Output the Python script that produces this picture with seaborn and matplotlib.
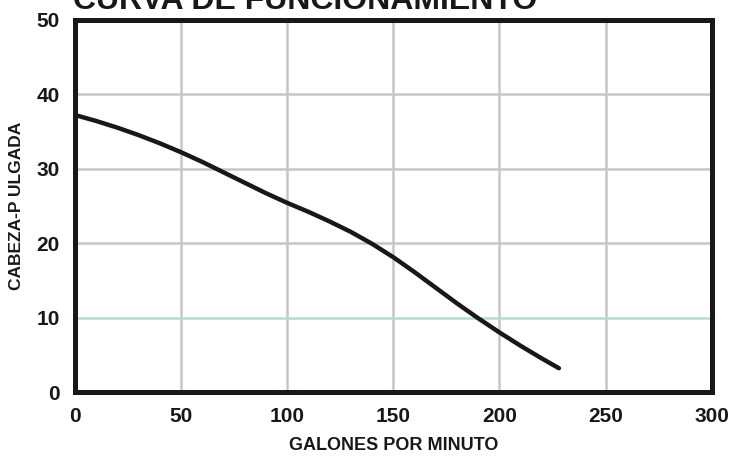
import numpy as np
import pandas as pd
import seaborn as sns
import matplotlib.pyplot as plt

# values
gpm = [0, 10, 20, 30, 40, 50, 60, 70, 80, 90, 100, 110, 120, 130, 140,
       150, 160, 170, 180, 190, 200, 210, 220, 228]
head = [37.2, 36.4, 35.5, 34.5, 33.4, 32.2, 30.9, 29.5, 28.1, 26.7, 25.4,
        24.2, 22.9, 21.5, 19.9, 18.1, 16.1, 14.0, 11.9, 9.9, 8.0, 6.2, 4.5, 3.2]
x_ticks = [0, 50, 100, 150, 200, 250, 300]
y_ticks = [0, 10, 20, 30, 40, 50]

curve_df = pd.DataFrame({'GPM': gpm, 'Head': head})

sns.set_style('white')
plt.rcParams['font.family'] = ['Liberation Sans', 'DejaVu Sans']

fig = plt.figure(figsize=(7.3, 4.58), dpi=100)
ax = fig.add_axes([0.1027, 0.144, 0.8723, 0.813])

# grid
for xv in x_ticks[1:-1]:
    ax.axvline(xv, color='#c6c6ca', lw=1.8, zorder=1)
for yv in y_ticks[1:-1]:
    col = '#b9dccb' if yv == 10 else '#c6c6ca'
    ax.axhline(yv, color=col, lw=1.8, zorder=1)

sns.lineplot(data=curve_df, x='GPM', y='Head', ax=ax, color='#1a1717',
             lw=3.2, zorder=3, solid_capstyle='round', solid_joinstyle='round')

ax.set_xlim(0, 300)
ax.set_ylim(0, 50)
ax.set_xticks(x_ticks)
ax.set_yticks(y_ticks)
ax.tick_params(axis='x', length=0, labelsize=15, pad=11, colors='#1a1717')
ax.tick_params(axis='y', length=0, labelsize=15, pad=11, colors='#1a1717')
for lbl in ax.get_xticklabels() + ax.get_yticklabels():
    lbl.set_fontweight('bold')

for sp in ax.spines.values():
    sp.set_linewidth(3.6)
    sp.set_color('#1a1717')

ax.set_xlabel('GALONES POR MINUTO', fontsize=13, fontweight='bold',
              color='#1a1717', labelpad=8)
ax.set_ylabel('CABEZA-P ULGADA', fontsize=12.5, fontweight='bold',
              color='#1a1717', labelpad=9)

fig.text(0.1, 0.98, 'CURVA DE FUNCIONAMIENTO', fontsize=23,
         fontweight='bold', color='#1a1717', ha='left', va='baseline')

fig.savefig('out.png', dpi=100)
